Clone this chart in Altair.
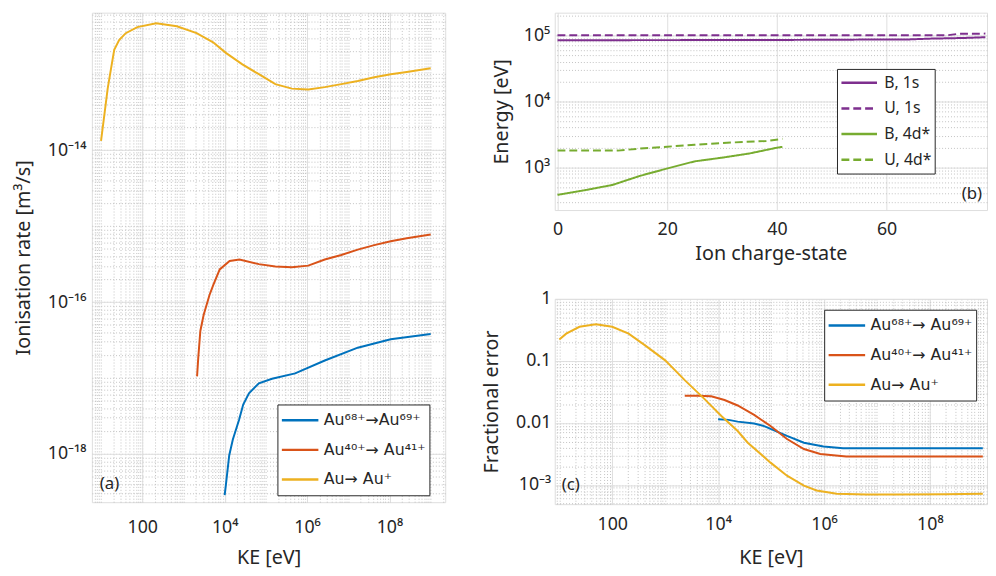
import math
import altair as alt
import pandas as pd

FONT = "Noto Sans"
LEGFONT = "DejaVu Sans"
INK = "#262626"
MAJOR = "#dedede"
MINOR = "#c2c2c2"
BLUE, RED, YEL = "#0072BD", "#D95319", "#EDB120"
PUR, GRN = "#7E2F8E", "#77AC30"

# ---------------- panel (a): ionisation rate [m^3/s] vs KE [eV] ----------------
a_ke_68 = [1e4, 1.07e4, 1.29e4, 1.58e4, 2.24e4, 2.82e4, 3.89e4, 6.76e4, 1.41e5, 5.13e5, 2.69e6, 1.70e7, 1.07e8, 1e9]
a_rate_68 = [2.88e-19, 3.89e-19, 9.55e-19, 1.55e-18, 2.82e-18, 4.47e-18, 6.31e-18, 8.51e-18, 9.77e-18, 1.15e-17, 1.70e-17, 2.51e-17, 3.24e-17, 3.80e-17]
a_ke_40 = [2140, 2290, 2570, 3090, 4270, 5250, 7590, 1.32e4, 2.29e4, 6.76e4, 1.70e5, 4.27e5, 1.07e6, 2.69e6, 6.76e6, 1.70e7, 4.27e7, 1.07e8, 2.63e8, 1e9]
a_rate_40 = [1.05e-17, 1.86e-17, 4.17e-17, 6.76e-17, 1.23e-16, 1.66e-16, 2.69e-16, 3.47e-16, 3.63e-16, 3.16e-16, 2.95e-16, 2.88e-16, 3.02e-16, 3.63e-16, 4.17e-16, 4.90e-16, 5.62e-16, 6.31e-16, 6.92e-16, 7.76e-16]
a_ke_0 = [10, 12.0, 14.5, 17.4, 20.9, 27.5, 39.8, 75.9, 219, 692, 2090, 5250, 1.07e4, 2.69e4, 6.76e4, 1.70e5, 4.27e5, 1.07e6, 2.69e6, 6.76e6, 1.70e7, 4.27e7, 1.07e8, 2.63e8, 1e9]
a_rate_0 = [1.33e-14, 2.88e-14, 6.46e-14, 1.17e-13, 2.09e-13, 2.82e-13, 3.47e-13, 4.17e-13, 4.68e-13, 4.27e-13, 3.47e-13, 2.63e-13, 1.91e-13, 1.35e-13, 1.0e-13, 7.41e-14, 6.46e-14, 6.31e-14, 6.76e-14, 7.41e-14, 8.13e-14, 9.12e-14, 1.0e-13, 1.07e-13, 1.20e-13]
a_series = ["Au⁶⁸⁺→Au⁶⁹⁺", "Au⁴⁰⁺→ Au⁴¹⁺", "Au→ Au⁺"]

# ---------------- panel (b): energy [eV] vs ion charge-state ----------------
b_q_b1s = [0, 23, 40, 50, 55, 64, 68, 74, 78]
b_e_b1s = [84300, 84500, 85000, 85500, 86000, 86500, 89000, 91000, 93500]
b_q_u1s = [0, 71, 73, 78]
b_e_u1s = [1.0e5, 1.0e5, 1.05e5, 1.06e5]
b_q_b4d = [0, 5, 10, 15, 20, 25, 30, 35, 40, 41]
b_e_b4d = [382, 450, 540, 740, 960, 1230, 1400, 1620, 1980, 2040]
b_q_u4d = [0, 11, 15, 20, 25, 32, 38, 41]
b_e_u4d = [1790, 1790, 1920, 2050, 2200, 2380, 2500, 2700]
b_series = ["B, 1s", "U, 1s", "B, 4d*", "U, 4d*"]

# ---------------- panel (c): fractional error vs KE [eV] ----------------
c_ke_68 = [1e4, 1.58e4, 2.34e4, 4.79e4, 7.41e4, 2.0e5, 4.17e5, 9.77e5, 2.29e6, 1e9]
c_err_68 = [0.0115, 0.0112, 0.0105, 0.0098, 0.0089, 0.00617, 0.00479, 0.00417, 0.00389, 0.00389]
c_ke_40 = [2340, 4170, 7410, 1.32e4, 2.34e4, 4.79e4, 9.77e4, 2.0e5, 4.17e5, 8.51e5, 2.63e6, 1e9]
c_err_40 = [0.0275, 0.0275, 0.0269, 0.0234, 0.0191, 0.0135, 0.00891, 0.0055, 0.0038, 0.00316, 0.00288, 0.00288]
c_ke_0 = [10, 13.5, 24.0, 49.0, 100, 204, 417, 1000, 2340, 5620, 1.15e4, 2.34e4, 3.63e4, 9.77e4, 2.0e5, 4.17e5, 7.24e5, 1.74e6, 6.31e6, 2.29e7, 1.95e8, 1e9]
c_err_0 = [0.221, 0.275, 0.355, 0.389, 0.355, 0.275, 0.178, 0.102, 0.049, 0.024, 0.0129, 0.00741, 0.00479, 0.00229, 0.00141, 9.77e-4, 8.13e-4, 7.24e-4, 7.0e-4, 7.0e-4, 7.08e-4, 7.24e-4]
c_series = ["Au⁶⁸⁺→ Au⁶⁹⁺", "Au⁴⁰⁺→ Au⁴¹⁺", "Au→ Au⁺"]

# tick labels
ke_ticks = [100, 1e4, 1e6, 1e8]
ke_labels = ["100", "10⁴", "10⁶", "10⁸"]
a_y_ticks = [1e-14, 1e-16, 1e-18]
a_y_labels = ["10⁻¹⁴", "10⁻¹⁶", "10⁻¹⁸"]
b_x_ticks = [0, 20, 40, 60]
b_y_ticks = [1e3, 1e4, 1e5]
b_y_labels = ["10³", "10⁴", "10⁵"]
c_y_ticks = [1e-3, 1e-2, 0.1, 1]
c_y_labels = ["10⁻³", "0.01", "0.1", "1"]


def long_df(xs_list, ys_list, names, xname, yname):
    rows = []
    for xs, ys, n in zip(xs_list, ys_list, names):
        for x, y in zip(xs, ys):
            rows.append({xname: x, yname: y, "series": n})
    return pd.DataFrame(rows)


def log_expr(values, labels):
    expr = "''"
    for v, l in reversed(list(zip(values, labels))):
        expr = f"abs(log(datum.value)/LN10 - ({math.log10(v):.4f})) < 0.01 ? '{l}' : {expr}"
    return expr


def minor_vals(lo, hi, d0, d1):
    out = []
    for d in range(d0, d1 + 1):
        for m in range(1, 10):
            v = m * 10.0 ** d
            if lo < v < hi:
                out.append(v)
    return out


def major_axis(orient, values, title, lp, tp, expr=None, grid=True):
    kw = dict(orient=orient, values=values, title=title, grid=grid, gridColor=MAJOR, gridWidth=1,
              ticks=False, tickSize=0, domain=False, labelPadding=lp, titlePadding=tp,
              labelFlush=False, labelOverlap=False, labelFont=FONT, labelFontSize=18,
              labelColor=INK, titleFont=FONT, titleFontSize=20, titleFontWeight="normal",
              titleColor=INK)
    if expr is not None:
        kw["labelExpr"] = expr
    return alt.Axis(**kw)


def minor_axis(orient, values):
    return alt.Axis(orient=orient, values=values, grid=True, gridColor=MINOR, gridDash=[1, 2],
                    gridWidth=1, labels=False, ticks=False, domain=False, title=None)


def legend(x, y, rowh, rowpad, symlen, lo, font, fsize):
    return alt.Legend(title=None, orient="none", legendX=x, legendY=y, fillColor="white",
                      strokeColor=INK, padding=3, symbolType="stroke", symbolSize=symlen * symlen,
                      clipHeight=rowh, symbolStrokeWidth=2.5, labelFont=font, labelFontSize=fsize,
                      labelColor=INK, rowPadding=rowpad, labelLimit=400, labelOffset=lo)


def tag(text, x, y, align):
    return alt.Chart(pd.DataFrame({"t": [text]})).mark_text(
        align=align, baseline="middle", font=FONT, fontSize=17, color=INK
    ).encode(x=alt.value(x), y=alt.value(y), text="t:N")


# ---- (a)
a_df = long_df([a_ke_68, a_ke_40, a_ke_0], [a_rate_68, a_rate_40, a_rate_0], a_series, "ke", "rate")
a_xs = alt.Scale(type="log", domain=[6.0, 2.25e9], nice=False)
a_ys = alt.Scale(type="log", domain=[2.32e-19, 6.46e-13], nice=False)
a_minor = alt.Chart(a_df).mark_line(strokeOpacity=0).encode(
    x=alt.X("ke:Q", scale=a_xs, axis=minor_axis("top", minor_vals(6.0, 2.25e9, 0, 9))),
    y=alt.Y("rate:Q", scale=a_ys, axis=minor_axis("right", minor_vals(2.32e-19, 6.46e-13, -19, -13))),
    detail="series:N",
)
a_lines = alt.Chart(a_df).mark_line(strokeWidth=2, clip=True).encode(
    x=alt.X("ke:Q", scale=a_xs, axis=major_axis("bottom", ke_ticks, "KE [eV]", 17, 11, log_expr(ke_ticks, ke_labels))),
    y=alt.Y("rate:Q", scale=a_ys, axis=major_axis("left", a_y_ticks, "Ionisation rate [m³/s]", 6, 14, log_expr(a_y_ticks, a_y_labels))),
    color=alt.Color("series:N", scale=alt.Scale(domain=a_series, range=[BLUE, RED, YEL]),
                    sort=a_series, legend=legend(188, 397, 26, 4, 37, 4, LEGFONT, 16)),
)
a_chart = alt.layer(a_minor, a_lines, tag("(a)", 8, 478, "left")).resolve_axis(
    x="independent", y="independent").properties(width=358, height=496)

# ---- (b)
b_df = long_df([b_q_b1s, b_q_u1s, b_q_b4d, b_q_u4d], [b_e_b1s, b_e_u1s, b_e_b4d, b_e_u4d], b_series, "q", "e")
b_xs = alt.Scale(domain=[-0.5, 78.3], nice=False, zero=False)
b_ys = alt.Scale(type="log", domain=[225, 2.2e5], nice=False)
b_minor = alt.Chart(b_df).mark_line(strokeOpacity=0).encode(
    x=alt.X("q:Q", scale=b_xs, axis=alt.Axis(orient="top", values=[0], labels=False, ticks=False, domain=False, grid=False, title=None)),
    y=alt.Y("e:Q", scale=b_ys, axis=minor_axis("right", minor_vals(225, 2.2e5, 2, 5))),
    detail="series:N",
)
b_leg = legend(286, 57, 22, 4, 36, 6, FONT, 16)
b_lines = alt.Chart(b_df).mark_line(strokeWidth=2, clip=True).encode(
    x=alt.X("q:Q", scale=b_xs, axis=major_axis("bottom", b_x_ticks, "Ion charge-state", 11, 5)),
    y=alt.Y("e:Q", scale=b_ys, axis=major_axis("left", b_y_ticks, "Energy [eV]", 5, 12, log_expr(b_y_ticks, b_y_labels))),
    color=alt.Color("series:N", scale=alt.Scale(domain=b_series, range=[PUR, PUR, GRN, GRN]),
                    sort=b_series, legend=b_leg),
    strokeDash=alt.StrokeDash("series:N", scale=alt.Scale(domain=b_series, range=[[1, 0], [8, 4], [1, 0], [8, 4]]),
                              sort=b_series, legend=b_leg),
)
b_chart = alt.layer(b_minor, b_lines, tag("(b)", 433, 184, "right")).resolve_axis(
    x="independent", y="independent").properties(width=438, height=200)

# ---- (c)
c_df = long_df([c_ke_68, c_ke_40, c_ke_0], [c_err_68, c_err_40, c_err_0], c_series, "ke", "err")
c_xs = alt.Scale(type="log", domain=[8.2, 1.2e9], nice=False)
c_ys = alt.Scale(type="log", domain=[4.9e-4, 1.0], nice=False)
c_minor = alt.Chart(c_df).mark_line(strokeOpacity=0).encode(
    x=alt.X("ke:Q", scale=c_xs, axis=minor_axis("top", minor_vals(8.2, 1.2e9, 0, 9))),
    y=alt.Y("err:Q", scale=c_ys, axis=minor_axis("right", minor_vals(4.9e-4, 1.0, -4, 0))),
    detail="series:N",
)
c_lines = alt.Chart(c_df).mark_line(strokeWidth=2, clip=True).encode(
    x=alt.X("ke:Q", scale=c_xs, axis=major_axis("bottom", ke_ticks, "KE [eV]", 12, 14, log_expr(ke_ticks, ke_labels))),
    y=alt.Y("err:Q", scale=c_ys, axis=major_axis("left", c_y_ticks, "Fractional error", 4, 14, log_expr(c_y_ticks, c_y_labels))),
    color=alt.Color("series:N", scale=alt.Scale(domain=c_series, range=[BLUE, RED, YEL]),
                    sort=c_series, legend=legend(273, 11, 26, 4, 37, 4, LEGFONT, 16)),
)
c_chart = alt.layer(c_minor, c_lines, tag("(c)", 7, 189, "left")).resolve_axis(
    x="independent", y="independent").properties(width=438, height=208)

right = alt.vconcat(b_chart, c_chart, spacing=25).resolve_scale(
    x="independent", y="independent", color="independent", strokeDash="independent")

chart = alt.hconcat(a_chart, right, spacing=35).resolve_scale(
    x="independent", y="independent", color="independent", strokeDash="independent"
).properties(
    padding={"left": 5, "top": 0, "right": 0, "bottom": 0}
).configure_view(stroke=INK, strokeWidth=1).configure(font=FONT)

chart.save("out.html", embed_options={"renderer": "svg", "actions": False})
